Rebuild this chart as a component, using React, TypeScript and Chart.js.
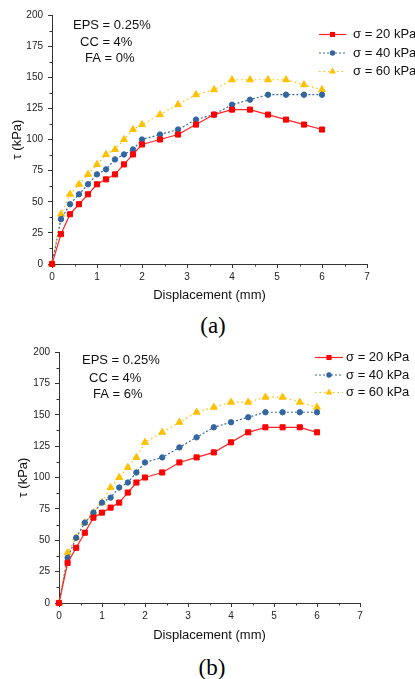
import React, { useEffect, useRef } from 'react';
import { Chart, registerables } from 'chart.js';

Chart.register(...registerables);

// ---------- data ----------
const displacement = [0, 0.2, 0.4, 0.6, 0.8, 1.0, 1.2, 1.4, 1.6, 1.8, 2.0, 2.4, 2.8, 3.2, 3.6, 4.0, 4.4, 4.8, 5.2, 5.6, 6.0];

const tauA20 = [0, 24, 40, 48, 56, 64, 68, 72, 80, 88, 96, 100, 104, 112, 120, 124, 124, 120, 116, 112, 108];
const tauA40 = [0, 36, 48, 56, 64, 72, 76, 84, 88, 92, 100, 104, 108, 116, 120, 128, 132, 136, 136, 136, 136];
const tauA60 = [0, 40, 56, 64, 72, 80, 88, 92, 100, 108, 112, 120, 128, 136, 140, 148, 148, 148, 148, 144, 140];

const tauB20 = [0, 32, 44, 56, 68, 72, 76, 80, 88, 96, 100, 104, 112, 116, 120, 128, 136, 140, 140, 140, 136];
const tauB40 = [0, 36, 52, 64, 72, 80, 84, 92, 96, 104, 112, 116, 124, 132, 140, 144, 148, 152, 152, 152, 152];
const tauB60 = [0, 40, 52, 64, 72, 80, 92, 100, 108, 116, 128, 136, 144, 152, 156, 160, 160, 164, 164, 160, 156];

const seriesLabels = ['σ = 20 kPa', 'σ = 40 kPa', 'σ = 60 kPa'];
const notesA = ['EPS = 0.25%', 'CC = 4%', 'FA = 0%'];
const notesB = ['EPS = 0.25%', 'CC = 4%', 'FA = 6%'];

const xMin = 0, xMax = 7, xStep = 1;
const yMin = 0, yMax = 200, yStep = 25;
const xMinorTicks = [0.5, 1.5, 2.5, 3.5, 4.5, 5.5, 6.5];
const yMinorTicks = [12.5, 37.5, 62.5, 87.5, 112.5, 137.5, 162.5, 187.5];

const xTitle = 'Displacement (mm)';
const yTitle = 'τ (kPa)';

// ---------- styles ----------
const SANS = '"Liberation Sans", Arial, Helvetica, sans-serif';
const SERIF = '"Liberation Serif", "Times New Roman", serif';
const AXIS = '#333333';
const TICKTEXT = '#222222';

const styles = [
  { line: '#ff2424', fill: '#ff0000', dash: [] as number[], point: 'rect', radius: 3.6, width: 1.2 },
  { line: '#3a6aa6', fill: '#33669f', dash: [2, 2], point: 'circle', radius: 2.7, width: 1.2 },
  { line: '#ffc000', fill: '#ffc000', dash: [1.5, 3], point: 'triangle', radius: 4, width: 1.2 },
];

function drawMarker(ctx: CanvasRenderingContext2D, kind: string, x: number, y: number, r: number, color: string) {
  ctx.fillStyle = color;
  ctx.beginPath();
  if (kind === 'rect') {
    const s = r * Math.SQRT1_2;
    ctx.rect(x - s, y - s, 2 * s, 2 * s);
  } else if (kind === 'circle') {
    ctx.arc(x, y, r, 0, Math.PI * 2);
  } else {
    ctx.moveTo(x, y - r);
    ctx.lineTo(x + r * Math.sin(Math.PI / 3), y + r * 0.5);
    ctx.lineTo(x - r * Math.sin(Math.PI / 3), y + r * 0.5);
    ctx.closePath();
  }
  ctx.fill();
}

const minorTicksPlugin = {
  id: 'minorTicks',
  afterDraw(chart: any) {
    const { ctx } = chart;
    const xs = chart.scales.x;
    const ys = chart.scales.y;
    ctx.save();
    ctx.strokeStyle = AXIS;
    ctx.lineWidth = 1;
    ctx.beginPath();
    for (const v of xMinorTicks) {
      const px = Math.round(xs.getPixelForValue(v)) + 0.5;
      ctx.moveTo(px, xs.top);
      ctx.lineTo(px, xs.top + 2.5);
    }
    for (const v of yMinorTicks) {
      const py = Math.round(ys.getPixelForValue(v)) + 0.5;
      ctx.moveTo(ys.right, py);
      ctx.lineTo(ys.right - 2.5, py);
    }
    ctx.stroke();
    ctx.restore();
  },
};

const notesPlugin = {
  id: 'notes',
  afterDraw(chart: any, _args: any, opts: any) {
    const { ctx } = chart;
    ctx.save();
    ctx.font = `13px ${SANS}`;
    ctx.fillStyle = '#111111';
    ctx.textAlign = 'left';
    ctx.textBaseline = 'middle';
    opts.lines.forEach((t: string, i: number) => {
      ctx.fillText(t, opts.lefts[i], opts.ys[i]);
    });
    ctx.restore();
  },
};

const legendPlugin = {
  id: 'customLegend',
  afterDraw(chart: any, _args: any, opts: any) {
    const { ctx } = chart;
    ctx.save();
    chart.data.datasets.forEach((ds: any, i: number) => {
      const st = styles[i];
      const y = opts.y0 + i * opts.dy;
      ctx.strokeStyle = st.line;
      ctx.lineWidth = st.width;
      ctx.setLineDash(st.dash);
      ctx.beginPath();
      ctx.moveTo(opts.x0, y + 0.5);
      ctx.lineTo(opts.x1, y + 0.5);
      ctx.stroke();
      ctx.setLineDash([]);
      drawMarker(ctx, st.point, (opts.x0 + opts.x1) / 2, y + 0.5, st.radius, st.fill);
      ctx.font = `13px ${SANS}`;
      ctx.fillStyle = '#111111';
      ctx.textAlign = 'left';
      ctx.textBaseline = 'middle';
      ctx.fillText(ds.label, opts.textX, y + 0.5);
    });
    ctx.restore();
  },
};

type Geo = {
  yWidth: number; xHeight: number; top: number; right: number;
  yTitlePad: number; xTitlePad: number;
  legend: { x0: number; x1: number; textX: number; y0: number; dy: number };
  notes: { lefts: number[]; ys: number[] };
};

function makeConfig(series: number[][], notes: string[], g: Geo): any {
  return {
    type: 'line',
    data: {
      datasets: series.map((vals, i) => ({
        label: seriesLabels[i],
        data: displacement.map((x, j) => ({ x, y: vals[j] })),
        borderColor: styles[i].line,
        backgroundColor: styles[i].fill,
        pointBackgroundColor: styles[i].fill,
        pointBorderColor: styles[i].fill,
        pointBorderWidth: 1,
        borderWidth: styles[i].width,
        borderDash: styles[i].dash,
        pointStyle: styles[i].point,
        pointRadius: styles[i].radius,
        tension: 0,
        fill: false,
        clip: false,
      })),
    },
    options: {
      responsive: false,
      animation: false,
      devicePixelRatio: 1,
      layout: { padding: { top: g.top, right: g.right, left: 0, bottom: 0 } },
      plugins: {
        legend: { display: false },
        tooltip: { enabled: false },
        notes: { lines: notes, lefts: g.notes.lefts, ys: g.notes.ys },
        customLegend: g.legend,
      },
      scales: {
        x: {
          type: 'linear',
          min: xMin,
          max: xMax,
          ticks: { stepSize: xStep, font: { family: SANS, size: 10 }, color: TICKTEXT, padding: 3, maxRotation: 0 },
          grid: { display: true, drawOnChartArea: false, drawTicks: true, tickLength: 4, color: AXIS },
          border: { display: true, color: AXIS, width: 1 },
          title: { display: true, text: xTitle, font: { family: SANS, size: 13 }, color: '#111111', padding: { top: 0, bottom: g.xTitlePad } },
          afterFit: (s: any) => { s.height = g.xHeight; },
        },
        y: {
          type: 'linear',
          min: yMin,
          max: yMax,
          ticks: { stepSize: yStep, font: { family: SANS, size: 10 }, color: TICKTEXT, padding: 5 },
          grid: { display: true, drawOnChartArea: false, drawTicks: true, tickLength: 4, color: AXIS },
          border: { display: true, color: AXIS, width: 1 },
          title: { display: true, text: yTitle, font: { family: SANS, size: 13 }, color: '#111111', padding: { top: g.yTitlePad, bottom: 0 } },
          afterFit: (s: any) => { s.width = g.yWidth; },
        },
      },
    },
    plugins: [minorTicksPlugin, notesPlugin, legendPlugin],
  };
}

const geoA: Geo = {
  yWidth: 52, xHeight: 46, top: 15, right: 48, yTitlePad: 10, xTitlePad: 7,
  legend: { x0: 319, x1: 346, textX: 353, y0: 34, dy: 18.5 },
  notes: { lefts: [73, 80, 85], ys: [25, 42, 58] },
};
const geoB: Geo = {
  yWidth: 59, xHeight: 45, top: 14, right: 55, yTitlePad: 16, xTitlePad: 5,
  legend: { x0: 315, x1: 343, textX: 346, y0: 19, dy: 17.5 },
  notes: { lefts: [82, 89, 93], ys: [22, 40, 56.5] },
};

function Panel({ series, notes, geo, top }: { series: number[][]; notes: string[]; geo: Geo; top: number }) {
  const ref = useRef<HTMLCanvasElement>(null);
  useEffect(() => {
    if (!ref.current) return;
    const chart = new Chart(ref.current, makeConfig(series, notes, geo));
    return () => chart.destroy();
  }, []);
  return (
    <canvas
      ref={ref}
      width={415}
      height={310}
      style={{ position: 'absolute', left: 0, top, width: 415, height: 310 }}
    />
  );
}

export default function App() {
  const cap: React.CSSProperties = {
    position: 'absolute', width: 40, textAlign: 'center', fontFamily: SERIF, fontSize: 23, lineHeight: '26px', color: '#000',
  };
  return (
    <div style={{ position: 'absolute', left: 0, top: 0, width: 415, height: 679, background: '#fff', overflow: 'hidden' }}>
      <Panel series={[tauA20, tauA40, tauA60]} notes={notesA} geo={geoA} top={0} />
      <div style={{ ...cap, left: 193, top: 313 }}>(a)</div>
      <Panel series={[tauB20, tauB40, tauB60]} notes={notesB} geo={geoB} top={338} />
      <div style={{ ...cap, left: 192, top: 655 }}>(b)</div>
    </div>
  );
}
